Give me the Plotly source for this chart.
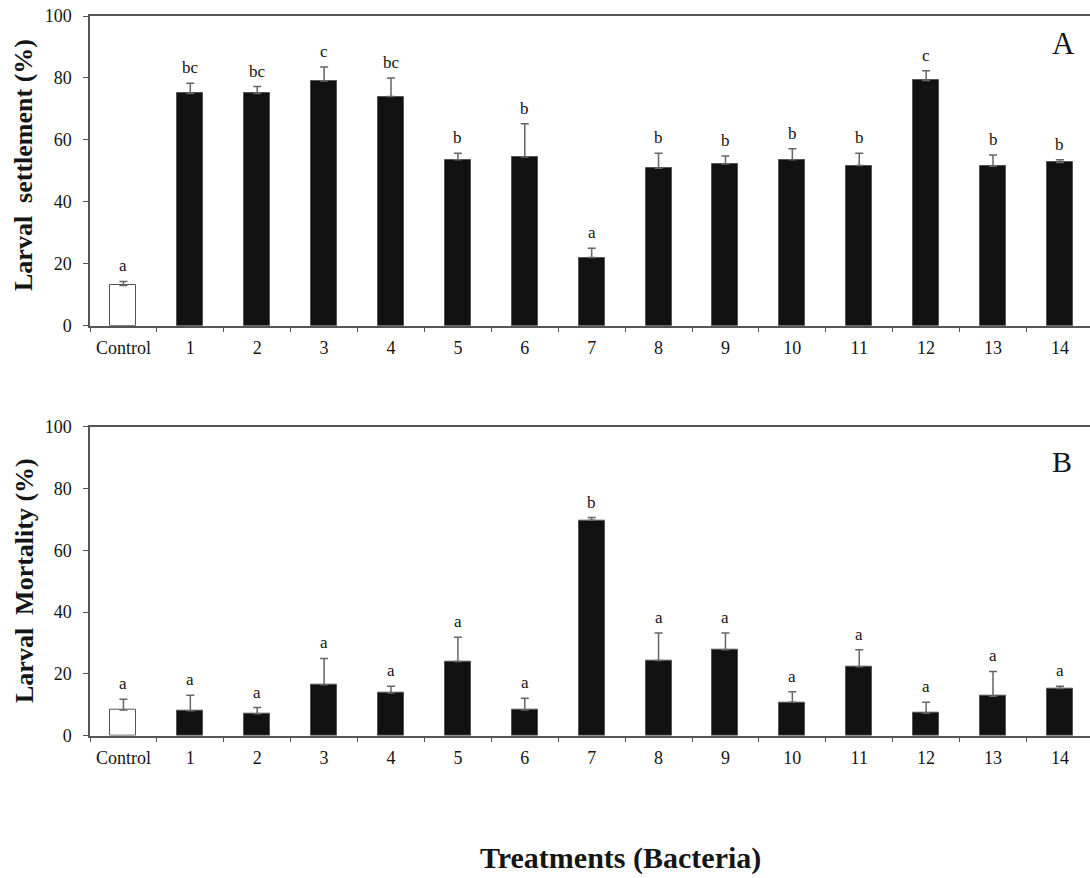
import plotly.graph_objects as go
from plotly.subplots import make_subplots

# Treatments and measured responses (mean and SE, %)
categories = ["Control", "1", "2", "3", "4", "5", "6", "7", "8", "9", "10", "11", "12", "13", "14"]

settle_mean = [13.0, 75.0, 75.0, 79.0, 74.0, 53.6, 54.5, 22.0, 50.8, 52.2, 53.6, 51.7, 79.2, 51.5, 52.7]
settle_se = [1.3, 3.3, 2.2, 4.5, 6.0, 2.1, 10.7, 3.0, 4.9, 2.6, 3.5, 4.0, 3.1, 3.6, 0.9]
settle_letters = ["a", "bc", "bc", "c", "bc", "b", "b", "a", "b", "b", "b", "b", "c", "b", "b"]

mort_mean = [8.3, 8.1, 7.1, 16.5, 13.8, 24.0, 8.3, 69.7, 24.3, 27.8, 10.8, 22.3, 7.3, 12.8, 15.3]
mort_se = [3.5, 5.0, 2.0, 8.5, 2.2, 7.9, 3.8, 0.9, 8.9, 5.4, 3.4, 5.5, 3.5, 8.0, 0.7]
mort_letters = ["a", "a", "a", "a", "a", "a", "a", "b", "a", "a", "a", "a", "a", "a", "a"]

y_ticks = [0, 20, 40, 60, 80, 100]
y_ticklabels = ["0", "20", "40", "60", "80", "100"]

FONT = "Liberation Serif"
INK = "#151515"
AXIS = "#555555"
W, H = 1090, 878
LEFT = 90

fig = make_subplots(rows=2, cols=1)

fills = ["white"] + ["#111111"] * (len(categories) - 1)

panels = [
    (settle_mean, settle_se, settle_letters, 1),
    (mort_mean, mort_se, mort_letters, 2),
]

for means, ses, letters, row in panels:
    fig.add_trace(
        go.Bar(
            x=categories,
            y=means,
            width=0.39,
            marker=dict(color=fills, line=dict(color="#555555", width=1)),
            error_y=dict(
                type="data",
                symmetric=False,
                array=ses,
                arrayminus=[0] * len(ses),
                color="#666666",
                thickness=1.5,
                width=4,
            ),
            showlegend=False,
            hoverinfo="skip",
        ),
        row=row,
        col=1,
    )
    # significance letters above each error bar
    xref = "x" if row == 1 else "x2"
    yref = "y" if row == 1 else "y2"
    for cat, m, s, lab in zip(categories, means, ses, letters):
        fig.add_annotation(
            x=cat, y=m + s, xref=xref, yref=yref,
            text=lab, showarrow=False, xanchor="center", yanchor="bottom", yshift=4,
            font=dict(family=FONT, size=17, color=INK),
        )


def py(pix):
    """Vertical pixel position -> paper fraction."""
    return 1 - pix / H


def px(pix):
    """Horizontal pixel position -> paper fraction."""
    return (pix - LEFT) / (W - LEFT)


fig.update_layout(
    width=W,
    height=H,
    margin=dict(l=LEFT, r=0, t=0, b=0, autoexpand=False),
    paper_bgcolor="white",
    plot_bgcolor="white",
    bargap=0,
    font=dict(family=FONT, size=18, color=INK),
    yaxis=dict(domain=[py(325.7), py(16)]),
    yaxis2=dict(domain=[py(735.7), py(426.7)]),
)

for r in (1, 2):
    fig.update_xaxes(
        type="category",
        range=[-0.5, 14.45],
        tickson="boundaries",
        ticks="outside",
        ticklen=5,
        tickwidth=1,
        tickcolor=AXIS,
        ticklabelstandoff=5,
        showline=True,
        linecolor=AXIS,
        linewidth=1.5,
        mirror=True,
        showgrid=False,
        automargin=False,
        tickfont=dict(family=FONT, size=18, color=INK),
        row=r, col=1,
    )
    fig.update_yaxes(
        range=[0, 100],
        tickvals=y_ticks,
        ticktext=y_ticklabels,
        ticks="outside",
        ticklen=5,
        tickwidth=1,
        tickcolor=AXIS,
        ticklabelstandoff=8,
        showline=True,
        linecolor=AXIS,
        linewidth=1.5,
        showgrid=False,
        zeroline=False,
        automargin=False,
        tickfont=dict(family=FONT, size=18, color=INK),
        row=r, col=1,
    )

# y-axis titles
fig.add_annotation(
    x=px(24), y=py(165), xref="paper", yref="paper",
    xanchor="center", yanchor="middle",
    text="<b>Larval  settlement (%)</b>", textangle=-90, showarrow=False,
    font=dict(family=FONT, size=26, color=INK),
)
fig.add_annotation(
    x=px(24), y=py(581), xref="paper", yref="paper",
    xanchor="center", yanchor="middle",
    text="<b>Larval  Mortality (%)</b>", textangle=-90, showarrow=False,
    font=dict(family=FONT, size=26, color=INK),
)

# panel letters
fig.add_annotation(
    x=px(1063), y=py(44), xref="paper", yref="paper",
    xanchor="center", yanchor="middle",
    text="A", showarrow=False, font=dict(family=FONT, size=31, color=INK),
)
fig.add_annotation(
    x=px(1062), y=py(461), xref="paper", yref="paper",
    xanchor="center", yanchor="middle",
    text="B", showarrow=False, font=dict(family=FONT, size=30, color=INK),
)

# shared x-axis title
fig.add_annotation(
    x=px(620), y=py(858), xref="paper", yref="paper",
    xanchor="center", yanchor="middle",
    text="<b>Treatments (Bacteria)</b>", showarrow=False,
    font=dict(family=FONT, size=30, color=INK),
)

fig.write_html("out.html")
